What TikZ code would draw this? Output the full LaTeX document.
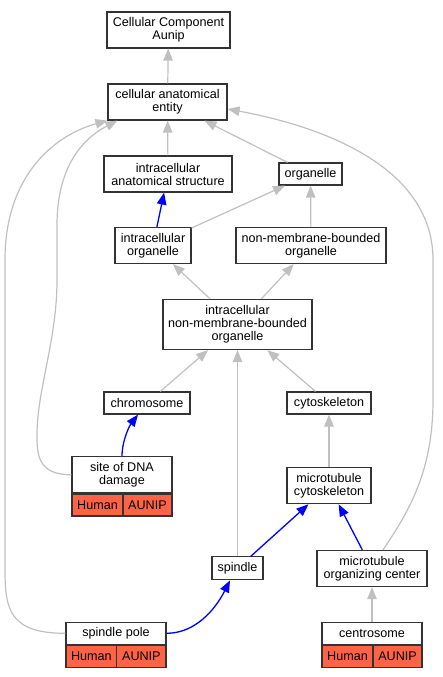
\documentclass[tikz,border=0pt]{standalone}
\usepackage{fontspec}
\setmainfont{Liberation Sans}
\usetikzlibrary{arrows.meta}
\definecolor{isagray}{RGB}{192,192,192}
\definecolor{tomato}{RGB}{255,99,71}
\definecolor{boxline}{RGB}{51,51,51}
\tikzset{term/.style={draw=boxline,line width=1.2pt,fill=white,align=center,inner sep=0pt,font=\fontsize{12.6}{13}\selectfont},
annot/.style={term,fill=tomato,minimum height=22pt},
isa/.style={-{Triangle[length=12pt,width=9.5pt]},isagray,line width=1.2pt},
partof/.style={-{Triangle[length=12pt,width=9.5pt]},blue,line width=1.3pt}}

\begin{document}
\begin{tikzpicture}[x=1pt,y=-1pt]
\useasboundingbox (0,0) rectangle (443,677);
\node[term,minimum width=123pt,minimum height=36pt] (top) at (168.5,30) {Cellular Component\\Aunip};
\node[term,minimum width=119pt,minimum height=36pt] (cae) at (167.5,102) {cellular anatomical\\entity};
\node[term,minimum width=128pt,minimum height=36pt] (ias) at (168,174) {intracellular\\anatomical structure};
\node[term,minimum width=63pt,minimum height=22pt] (org) at (310.5,174) {organelle};
\node[term,minimum width=76pt,minimum height=36pt] (io) at (153,245.5) {intracellular\\organelle};
\node[term,minimum width=150pt,minimum height=36pt] (nmbo) at (311,245.5) {non-membrane-bounded\\organelle};
\node[term,minimum width=149pt,minimum height=50pt] (inmbo) at (237.5,324.5) {intracellular\\non-membrane-bounded\\organelle};
\node[term,minimum width=86pt,minimum height=22pt] (chrom) at (147,403) {chromosome};
\node[term,minimum width=84pt,minimum height=22pt] (cytosk) at (329,403) {cytoskeleton};
\node[term,minimum width=100pt,minimum height=36pt] (site) at (122,474.8) {site of DNA\\damage};
\node[annot,anchor=north west,minimum width=51pt] (siteh) at (site.south west) {Human};
\node[annot,anchor=north east,minimum width=49pt] (sitea) at (site.south east) {AUNIP};
\node[term,minimum width=84pt,minimum height=36pt] (mcyto) at (329,485.7) {microtubule\\cytoskeleton};
\node[term,minimum width=51pt,minimum height=23pt] (spindle) at (237.5,568.3) {spindle};
\node[term,minimum width=110pt,minimum height=36pt] (mtoc) at (372,568.5) {microtubule\\organizing center};
\node[term,minimum width=100pt,minimum height=22pt] (spole) at (116,633.3) {spindle pole};
\node[annot,anchor=north west,minimum width=50.7pt] (spoleh) at (spole.south west) {Human};
\node[annot,anchor=north east,minimum width=49.3pt] (spolea) at (spole.south east) {AUNIP};
\node[term,minimum width=100pt,minimum height=22pt] (centro) at (372,633.3) {centrosome};
\node[annot,anchor=north west,minimum width=51pt] (centroh) at (centro.south west) {Human};
\node[annot,anchor=north east,minimum width=49pt] (centroa) at (centro.south east) {AUNIP};
\draw[isa] (cae) -- (top);
\draw[isa] (ias) -- (cae);
\draw[isa] (org) -- (cae);
\draw[partof] (io) -- (ias);
\draw[isa] (io) -- (org);
\draw[isa] (nmbo) -- (org);
\draw[isa] (inmbo) -- (io);
\draw[isa] (inmbo) -- (nmbo);
\draw[isa] (chrom) -- (inmbo);
\draw[isa] (cytosk) -- (inmbo);
\draw[isa] (spindle) -- (inmbo);
\draw[isa] (mcyto) -- (cytosk);
\draw[partof] (spindle) -- (mcyto);
\draw[partof] (mtoc) -- (mcyto);
\draw[isa] (centro) -- (mtoc);
\draw[partof] (site.north) .. controls (122,440) and (130,425) .. ([xshift=-9pt]chrom.south);
\draw[partof] (spole.east) .. controls (195,633.3) and (215,610) .. ([xshift=-7.5pt]spindle.south);
\draw[isa] (site.west) .. controls (38,474.8) and (37,455) .. (37,435) .. controls (37,390) and (57,340) .. (57,280) -- (57,225) .. controls (57,170) and (80,140) .. ([xshift=10pt]cae.south west);
\draw[isa] (spole.west) .. controls (10,633.3) and (5,610) .. (5,570) -- (5,260) .. controls (5,175) and (55,135) .. (cae.south west);
\draw[isa] ([xshift=11pt]mtoc.north) .. controls (410,510) and (433,470) .. (433,400) -- (433,260) .. controls (433,170) and (330,128) .. ([yshift=-7pt]cae.east);
\end{tikzpicture}
\end{document}
